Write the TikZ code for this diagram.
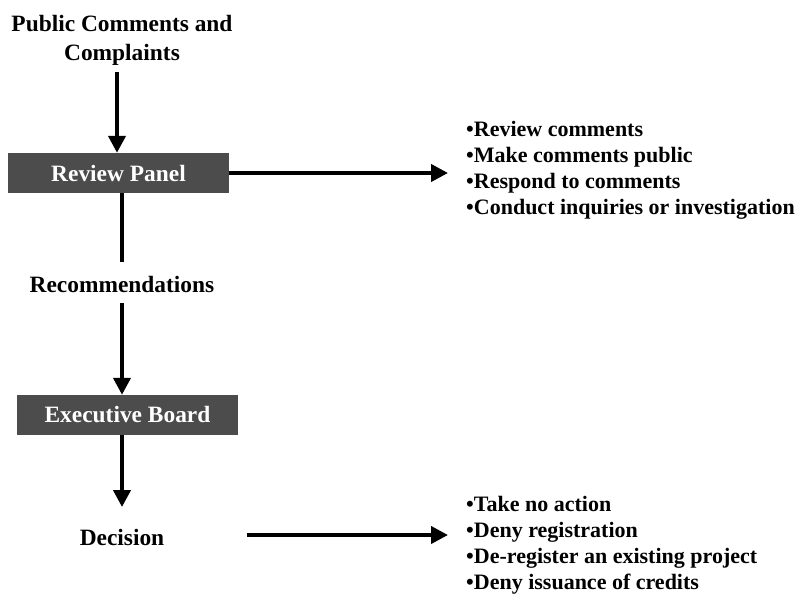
\documentclass[tikz,border=0pt]{standalone}
\usepackage{fontspec}
\setmainfont{Liberation Serif}
\usetikzlibrary{arrows.meta}

\tikzset{
  panel/.style={fill=black!70, text=white, minimum width=221pt, minimum height=40pt, inner sep=0pt, font=\bfseries\fontsize{23.4}{26}\selectfont},
  label/.style={align=center, font=\bfseries\fontsize{23.4}{29}\selectfont},
  items/.style={align=left, anchor=west, inner sep=0pt, font=\bfseries\fontsize{22}{26}\selectfont},
  flow/.style={line width=4pt, -{Triangle[length=17pt,width=17pt]}}
}

\begin{document}
\begin{tikzpicture}[x=1pt, y=-1pt]
\useasboundingbox (0,0) rectangle (799,594);

\node[label] (pub) at (122,40) {Public Comments and\\Complaints};
\node[panel] (rp) at (118.5,173) {Review Panel};
\node[label] (rec) at (122,284) {Recommendations};
\node[panel] (eb) at (127.5,415) {Executive Board};
\node[label] (dec) at (122,537) {Decision};

\node[items] (todo) at (466,170.5) {•Review comments\\•Make comments public\\•Respond to comments\\•Conduct inquiries or investigation};
\node[items] (out) at (466,545) {•Take no action\\•Deny registration\\•De-register an existing project\\•Deny issuance of credits};

\coordinate (p0) at (117,72);
\coordinate (r0) at (122,193);
\coordinate (r1) at (122,262);
\coordinate (r2) at (122,303);
\coordinate (e0) at (122,435);
\coordinate (d1) at (122,507);
\coordinate (a1) at (448,173);
\coordinate (d0) at (247,535);
\coordinate (a2) at (448,535);

\draw[flow] (p0) -- (p0 |- rp.north);
\draw[line width=4pt] (r0) -- (r1);
\draw[flow] (r2) -- (r2 |- eb.north);
\draw[flow] (e0) -- (d1);
\draw[flow] (rp.east) -- (a1);
\draw[flow] (d0) -- (a2);
\end{tikzpicture}
\end{document}
